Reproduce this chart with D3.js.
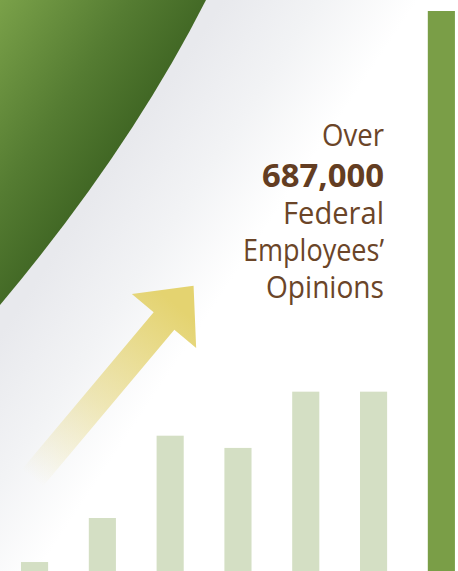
<!DOCTYPE html>
<html><head><meta charset="utf-8">
<script src="https://cdn.jsdelivr.net/npm/d3@7"></script>
<style>html,body{margin:0;padding:0;background:#fff;overflow:hidden}</style>
</head><body>
<script>
// Data
const categories = ["2002","2004","2006","2008","2010","2011","2012"];
const values = [11, 65, 166, 151, 220, 220, 687];   // thousands (baseline cropped)
const highlight = [false,false,false,false,false,false,true];
const textLines = ["Over","687,000","Federal","Employees\u2019","Opinions"];
const textBold  = [false,true,false,false,false];

const W = 458, H = 571;
const svg = d3.select("body").append("svg").attr("width", W).attr("height", H);
const defs = svg.append("defs");

// background gradients
const gGray = defs.append("linearGradient").attr("id","bgGray")
  .attr("gradientUnits","userSpaceOnUse").attr("x1",110).attr("y1",170).attr("x2",245).attr("y2",260);
gGray.append("stop").attr("offset",0).attr("stop-color","#e8e9ed");
gGray.append("stop").attr("offset",0.5).attr("stop-color","#f2f3f5");
gGray.append("stop").attr("offset",1).attr("stop-color","#ffffff");

const gGreen = defs.append("linearGradient").attr("id","bgGreen")
  .attr("gradientUnits","userSpaceOnUse").attr("x1",0).attr("y1",0).attr("x2",165).attr("y2",110);
gGreen.append("stop").attr("offset",0).attr("stop-color","#7aa149");
gGreen.append("stop").attr("offset",0.55).attr("stop-color","#557c32");
gGreen.append("stop").attr("offset",1).attr("stop-color","#3c6221");

svg.append("rect").attr("width",W).attr("height",H).attr("fill","#fff");
svg.append("rect").attr("width",W).attr("height",H).attr("fill","url(#bgGray)");

// green wedge with curved edge
svg.append("path")
  .attr("d","M0,0 L206,0 Q130,150 0,305 Z")
  .attr("fill","url(#bgGreen)");

// arrow
const gArrow = defs.append("linearGradient").attr("id","arrowGrad")
  .attr("gradientUnits","userSpaceOnUse").attr("x1",-205).attr("y1",0).attr("x2",20).attr("y2",0);
gArrow.append("stop").attr("offset",0).attr("stop-color","#e4d370").attr("stop-opacity",0);
gArrow.append("stop").attr("offset",0.45).attr("stop-color","#e4d370").attr("stop-opacity",0.5);
gArrow.append("stop").attr("offset",1).attr("stop-color","#e4d370").attr("stop-opacity",1);

svg.append("path")
  .attr("transform","translate(164,321) rotate(-50)")
  .attr("d","M-210,-13.5 L0,-13.5 L0,-42 L46,0 L0,42 L0,13.5 L-210,13.5 Z")
  .attr("fill","url(#arrowGrad)");

// bars
const x = d3.scaleBand().domain(categories).range([21, 21 + 67.8*7 - 67.8*0.6]).paddingInner(0.6).paddingOuter(0);
const y = d3.scaleLinear().domain([0, 687]).range([H, 11]);

svg.append("g").selectAll("rect").data(categories).join("rect")
  .attr("x", d => x(d))
  .attr("y", (d,i) => y(values[i]))
  .attr("width", x.bandwidth())
  .attr("height", (d,i) => H - y(values[i]))
  .attr("fill", (d,i) => highlight[i] ? "#7a9e47" : "#d4dfc4");

// text
const baselines = [146, 187, 224, 261, 298];
const widths = [62, 122, 101, 141, 118];
const tg = svg.append("g")
  .attr("font-family","'Open Sans', 'Noto Sans', sans-serif")
  .attr("text-anchor","end");
textLines.forEach((s,i) => {
  tg.append("text").attr("x",384).attr("y",baselines[i])
    .attr("font-size", textBold[i] ? 32 : 31)
    .attr("font-weight", textBold[i] ? 700 : 400)
    .attr("fill", textBold[i] ? "#633d22" : "#6b4528")
    .attr("textLength", widths[i]).attr("lengthAdjust","spacingAndGlyphs")
    .text(s);
});
</script>
</body></html>
